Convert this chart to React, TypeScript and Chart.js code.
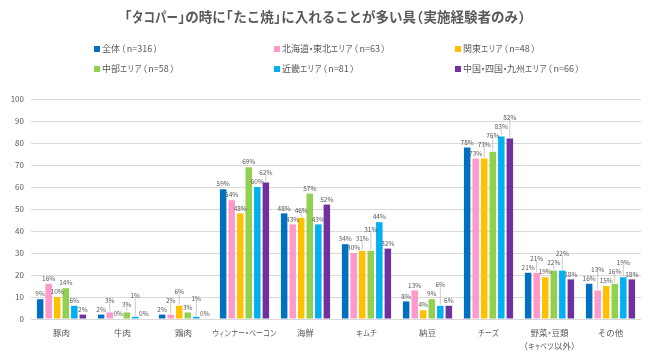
import React, { useEffect, useRef } from "react";
import { Chart, registerables } from "chart.js";

Chart.register(...registerables);

const titleText = "「タコパー」の時に「たこ焼」に入れることが多い具（実施経験者のみ）";
const categories: (string | string[])[] = [
  "豚肉",
  "牛肉",
  "鶏肉",
  "ウィンナー・ベーコン",
  "海鮮",
  "キムチ",
  "納豆",
  "チーズ",
  ["野菜・豆類", "（キャベツ以外）"],
  "その他",
];
const seriesNames = [
  "全体（n=316）",
  "北海道・東北エリア（n=63）",
  "関東エリア（n=48）",
  "中部エリア（n=58）",
  "近畿エリア（n=81）",
  "中国・四国・九州エリア（n=66）",
];
const zentai = [9, 2, 2, 59, 48, 34, 8, 78, 21, 16];
const hokkaido = [16, 3, 2, 54, 43, 30, 13, 73, 21, 13];
const kanto = [10, 0, 6, 48, 46, 31, 4, 73, 19, 15];
const chubu = [14, 3, 3, 69, 57, 31, 9, 76, 22, 16];
const kinki = [6, 1, 1, 60, 43, 44, 6, 83, 22, 19];
const chugoku = [2, 0, 0, 62, 52, 32, 6, 82, 18, 18];
const seriesValues = [zentai, hokkaido, kanto, chubu, kinki, chugoku];
const colors = ["#0070C0", "#FF99CC", "#FFC000", "#92D050", "#00B0F0", "#7030A0"];
const yTicks = [0, 10, 20, 30, 40, 50, 60, 70, 80, 90, 100];

const FONT = "'Noto Sans CJK JP', 'Noto Sans', sans-serif";
const TEXT = "#595959";

const SMALL_KANA = "ァィゥェォッャュョ";
const NARROW_PUNCT = "・";
const OPEN_BR = "（「";
const CLOSE_BR = "）」";

function charScale(ch: string, kana: number, bracket: number) {
  if (SMALL_KANA.includes(ch)) return 0.6;
  if (NARROW_PUNCT.includes(ch)) return 0.45;
  if (OPEN_BR.includes(ch) || CLOSE_BR.includes(ch)) return bracket;
  const c = ch.charCodeAt(0);
  if (c >= 0x30a0 && c <= 0x30ff) return kana;
  return 1;
}

// draws CJK text with katakana/brackets condensed (proportional look)
function drawProp(ctx: CanvasRenderingContext2D, text: string, x: number, y: number, align: "left" | "center", kana: number, bracket: number) {
  const chars = Array.from(text);
  const full = chars.map((ch) => ctx.measureText(ch).width);
  const widths = chars.map((ch, i) => full[i] * charScale(ch, kana, bracket));
  const total = widths.reduce((a, b) => a + b, 0);
  let cx = align === "center" ? x - total / 2 : x;
  ctx.save();
  chars.forEach((ch, i) => {
    const mid = cx + widths[i] / 2;
    ctx.textAlign = "center";
    if (OPEN_BR.includes(ch)) {
      ctx.fillText(ch, mid - full[i] * 0.25, y);
    } else if (CLOSE_BR.includes(ch)) {
      ctx.fillText(ch, mid + full[i] * 0.25, y);
    } else if (NARROW_PUNCT.includes(ch)) {
      ctx.fillText(ch, mid, y);
    } else if (widths[i] < full[i]) {
      ctx.fillText(ch, mid, y, widths[i]);
    } else {
      ctx.fillText(ch, mid, y);
    }
    cx += widths[i];
  });
  ctx.restore();
}

const overlayPlugin = {
  id: "overlay",
  afterDatasetsDraw(chart: any) {
    const ctx = chart.ctx;
    ctx.save();
    ctx.font = `6.5px ${FONT}`;
    ctx.textAlign = "center";
    ctx.textBaseline = "bottom";
    const nCat = chart.data.labels.length;
    const lh = 8;
    for (let i = 0; i < nCat; i++) {
      let prev: { l: number; r: number; t: number; b: number } | null = null;
      chart.data.datasets.forEach((ds: any, di: number) => {
        const el = chart.getDatasetMeta(di).data[i];
        const txt = `${ds.data[i]}%`;
        const w = ctx.measureText(txt).width;
        let bottom = el.y - 2;
        const cx = el.x;
        const l = cx - w / 2, r = cx + w / 2;
        let moved = false;
        if (prev && l < prev.r - 0.5 && bottom > prev.t && bottom - lh < prev.b) {
          bottom = prev.t - 1;
          moved = true;
        }
        if (moved) {
          ctx.strokeStyle = "#A6A6A6";
          ctx.lineWidth = 0.6;
          ctx.beginPath();
          ctx.moveTo(el.x, el.y - 1);
          ctx.lineTo(el.x, bottom - 1);
          ctx.stroke();
        }
        ctx.fillStyle = TEXT;
        ctx.fillText(txt, cx, bottom);
        prev = { l, r, t: bottom - lh, b: bottom };
      });
    }
    ctx.restore();
  },
  afterDraw(chart: any) {
    const ctx = chart.ctx;
    ctx.save();
    ctx.font = `bold 13.5px ${FONT}`;
    ctx.fillStyle = TEXT;
    ctx.textBaseline = "middle";
    drawProp(ctx, titleText, 325, 17, "center", 0.85, 0.55);
    const colX = [94, 274, 455];
    const rowY = [49, 69];
    ctx.font = `9px ${FONT}`;
    seriesNames.forEach((name, i) => {
      const x = colX[i % 3];
      const y = rowY[Math.floor(i / 3)];
      ctx.fillStyle = colors[i];
      ctx.fillRect(x, y - 3, 6, 6);
      ctx.fillStyle = TEXT;
      drawProp(ctx, name, x + 8, y, "left", 0.8, 0.75);
    });
    const xs = chart.scales.x;
    ctx.font = `8.5px ${FONT}`;
    ctx.fillStyle = TEXT;
    chart.data.labels.forEach((lab: string | string[], i: number) => {
      const cx = xs.getPixelForTick(i);
      const lines = Array.isArray(lab) ? lab : [lab];
      lines.forEach((ln, j) => drawProp(ctx, ln, cx, 333 + j * 13, "center", 0.82, 0.5));
    });
    ctx.restore();
  },
};

export default function App() {
  const ref = useRef<HTMLCanvasElement>(null);
  useEffect(() => {
    document.body.style.margin = "0";
    const chart = new Chart(ref.current!, {
      type: "bar",
      data: {
        labels: categories,
        datasets: seriesValues.map((vals, i) => ({
          label: seriesNames[i],
          data: vals,
          backgroundColor: colors[i],
          categoryPercentage: 0.84,
          barPercentage: 0.76,
        })),
      },
      options: {
        animation: false,
        responsive: false,
        layout: { padding: { top: 99, right: 9, left: 0, bottom: 0 } },
        plugins: {
          legend: { display: false },
          title: { display: false },
          tooltip: { enabled: false },
        },
        scales: {
          x: {
            grid: { display: false },
            border: { display: false },
            ticks: { display: false },
            afterFit: (s: any) => { s.height = 34; },
          },
          y: {
            min: 0,
            max: 100,
            afterBuildTicks: (s: any) => { s.ticks = yTicks.map((v) => ({ value: v })); },
            grid: { color: "#D9D9D9", drawTicks: false },
            border: { display: false },
            ticks: { color: TEXT, font: { family: FONT, size: 8 }, padding: 7 },
            afterFit: (s: any) => { s.width = 31; },
          },
        },
      },
      plugins: [overlayPlugin],
    });
    return () => chart.destroy();
  }, []);
  return (
    <div style={{ width: 650, height: 353 }}>
      <canvas ref={ref} width={650} height={353} style={{ display: "block" }} />
    </div>
  );
}
